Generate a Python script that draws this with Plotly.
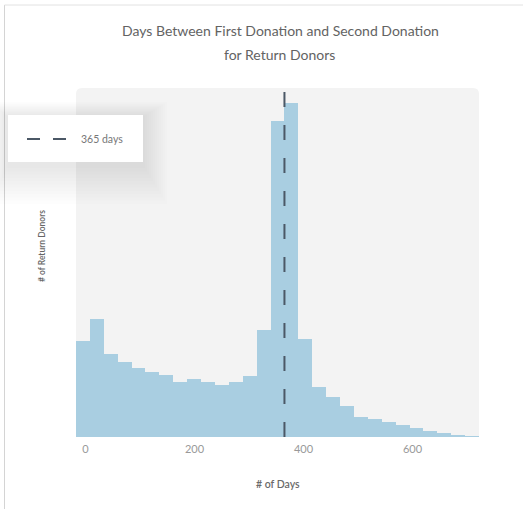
import plotly.graph_objects as go

# Histogram of days between a donor's first and second gift
BIN_START = -17.5          # left edge of the first bin (days)
BIN_WIDTH = 25.5           # width of each bin (days)
donor_counts = [963, 1177, 827, 753, 687, 653, 620, 550, 577, 553,
                523, 550, 607, 1067, 3166, 3340, 980, 503, 397, 313,
                200, 177, 150, 117, 90, 60, 37, 17, 7]
MARKER_DAYS = 365
marker_label = "365 days"
x_ticks = [0, 200, 400, 600]

title_lines = ["Days Between First Donation and Second Donation", "for Return Donors"]
x_title = "# of Days"
y_title = "# of Return Donors"

# bin centres derived from the bin layout
bin_centers = [BIN_START + BIN_WIDTH * (i + 0.5) for i in range(len(donor_counts))]
x_range = [BIN_START, BIN_START + BIN_WIDTH * len(donor_counts)]
y_top = 3493

W, H = 523, 509
ML, MR, MT, MB = 76, 44, 88, 72
PW, PH = W - ML - MR, H - MT - MB


def px(xp):
    return (xp - ML) / PW


def py(yp):
    return (H - MB - yp) / PH


BAR = "#a9cee1"
FONT = "Lato, 'Open Sans', sans-serif"

fig = go.Figure()
fig.add_trace(go.Bar(
    x=bin_centers, y=donor_counts, width=BIN_WIDTH,
    marker=dict(color=BAR, line=dict(width=0)),
    showlegend=False, hoverinfo="x+y",
))
fig.add_trace(go.Scatter(
    x=[MARKER_DAYS, MARKER_DAYS], y=[0, y_top], mode="lines",
    line=dict(color="#4b5866", width=2, dash="15px,18px"),
    showlegend=False, name=marker_label,
))

shapes = []
# rounded plot background
r_x, r_y = 6 / PW, 6 / PH
shapes.append(dict(
    type="path", xref="paper", yref="paper", layer="below",
    path=(f"M0,0 L0,{1 - r_y} Q0,1 {r_x},1 L{1 - r_x},1 Q1,1 1,{1 - r_y} L1,0 Z"),
    fillcolor="#f3f3f3", line=dict(width=0),
))
# card border (left and top edges)
shapes.append(dict(type="line", xref="paper", yref="paper",
                   x0=px(4.5), x1=px(4.5), y0=py(5), y1=py(H + 5),
                   line=dict(color="#d4d4d4", width=1)))
shapes.append(dict(type="line", xref="paper", yref="paper",
                   x0=px(4.5), x1=px(W + 5), y0=py(5), y1=py(5),
                   line=dict(color="#e2e2e2", width=1)))

# legend box with soft shadow
bx0, bx1, by0, by1 = 8, 143, 115, 162
for i in range(12):
    g = 2.5 * (i + 1)
    shapes.append(dict(type="rect", xref="paper", yref="paper", layer="above",
                       x0=px(bx0 - g * 0.6), x1=px(bx1 + g * 0.8),
                       y0=py(by1 + g * 1.3 + 3), y1=py(by0 - g * 0.5 + 2),
                       fillcolor="rgba(0,0,0,0.008)", line=dict(width=0)))
shapes.append(dict(type="rect", xref="paper", yref="paper", layer="above",
                   x0=px(bx0), x1=px(bx1), y0=py(by1), y1=py(by0),
                   fillcolor="#ffffff", line=dict(width=0)))
for a, b in [(27, 40), (53, 66)]:
    shapes.append(dict(type="line", xref="paper", yref="paper", layer="above",
                       x0=px(a), x1=px(b), y0=py(139), y1=py(139),
                       line=dict(color="#4b5866", width=2)))

annotations = [
    dict(text=title_lines[0], x=px(280.5), y=py(30), xref="paper", yref="paper",
         showarrow=False, xanchor="center", yanchor="middle",
         font=dict(family=FONT, size=14, color="#636363")),
    dict(text=title_lines[1], x=px(279.5), y=py(55), xref="paper", yref="paper",
         showarrow=False, xanchor="center", yanchor="middle",
         font=dict(family=FONT, size=14, color="#636363")),
    dict(text=x_title, x=0.5, y=py(484), xref="paper", yref="paper",
         showarrow=False, xanchor="center", yanchor="middle",
         font=dict(family=FONT, size=10.5, color="#6a6a6a", weight=600)),
    dict(text=y_title, x=px(42), y=py(246), xref="paper", yref="paper",
         showarrow=False, xanchor="center", yanchor="middle", textangle=-90,
         font=dict(family=FONT, size=8.5, color="#666666", weight=600)),
    dict(text=marker_label, x=px(79), y=py(139), xref="paper", yref="paper",
         showarrow=False, xanchor="left", yanchor="middle",
         font=dict(family=FONT, size=10.5, color="#777777")),
]

fig.update_layout(
    width=W, height=H,
    margin=dict(l=ML, r=MR, t=MT, b=MB, pad=0),
    paper_bgcolor="#ffffff", plot_bgcolor="rgba(0,0,0,0)",
    bargap=0, showlegend=False,
    shapes=shapes, annotations=annotations,
    xaxis=dict(range=x_range, tickvals=x_ticks, showgrid=False, zeroline=False,
               showline=False, ticks="", fixedrange=True, ticklabelstandoff=4,
               tickfont=dict(family=FONT, size=11, color="#999999")),
    yaxis=dict(range=[0, y_top], showgrid=False, zeroline=False,
               showline=False, showticklabels=False, ticks="", fixedrange=True),
)

fig.write_html("out.html")
